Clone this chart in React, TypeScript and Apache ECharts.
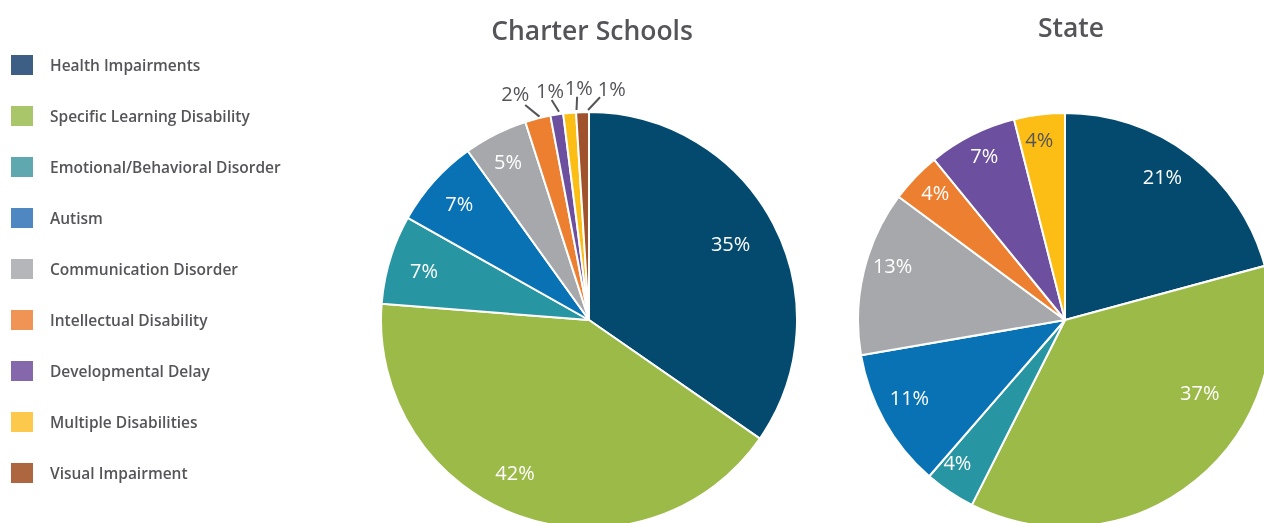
import React, { useEffect, useRef } from "react";
import * as echarts from "echarts";

const categories = [
  "Health Impairments",
  "Specific Learning Disability",
  "Emotional/Behavioral Disorder",
  "Autism",
  "Communication Disorder",
  "Intellectual Disability",
  "Developmental Delay",
  "Multiple Disabilities",
  "Visual Impairment",
];
const charterValues = [35, 42, 7, 7, 5, 2, 1, 1, 1];
const stateValues = [21, 37, 4, 11, 13, 4, 7, 4, 0];
const sliceColors = ["#034a6e", "#9bba48", "#2796a2", "#0872b4", "#a6a8ab", "#ed7f31", "#6c4f9e", "#fcbd14", "#a0522d"];
const legendColors = ["#3d5f85", "#aac66a", "#5fa8b0", "#4f87c2", "#b5b6b9", "#f09456", "#8568ac", "#fdc94c", "#ad6640"];
const titles = ["Charter Schools", "State"];

// label nudges (styling only)
const charterInsideNudge: [number, number][] = [[-14, 5], [-15, -13], [3, 2], [1, 1], [-2, -2], [0, 0], [0, 0], [0, 0], [0, 0]];
const stateInsideNudge: [number, number][] = [[-9, -4], [24, -63], [-10, -3], [-3, -8], [-2, -14], [-3, -7], [-2, -8], [-4, -7], [0, 0]];
// outside labels: [line start offset, line end offset, text offset] relative to slice edge anchor
const charterOutside: Record<number, [number, number][]> = {
  5: [[1.7, -1.8], [-12.6, -13.5], [-22.6, -24.9]],
  6: [[2.2, -2.8], [-5.1, -14.5], [-6.8, -24.5]],
  7: [[6.9, -2.9], [7.5, -16.2], [9.2, -25.6]],
  8: [[5.5, -2.1], [17.5, -14.8], [29.2, -23.8]],
};

const FONT = "'Open Sans', sans-serif";
const GREY = "#555559";

export default function App() {
  const ref = useRef<HTMLDivElement>(null);
  useEffect(() => {
    if (!ref.current) return;
    const chart = echarts.init(ref.current, null, { renderer: "svg" });
    const R = 208;
    const charterSmall = (v: number) => v <= 2;

    const mainData = (vals: number[], outsideSmall: boolean) =>
      vals.map((v, i) => ({
        name: categories[i],
        value: v,
        itemStyle: { color: sliceColors[i] },
        label: { show: outsideSmall && charterSmall(v) },
        labelLine: { show: outsideSmall && charterSmall(v) },
      }));
    const labelData = (vals: number[], skipSmall: boolean) =>
      vals.map((v, i) => ({
        name: categories[i],
        value: v,
        label: {
          show: v > 0 && !(skipSmall && charterSmall(v)),
          color: i === 7 ? GREY : "#ffffff",
        },
      }));

    const centers: [number, number][] = [
      [589, 320],
      [1065, 320],
    ];

    chart.setOption({
      animation: false,
      title: titles.map((t, i) => ({
        text: t,
        left: i === 0 ? 592 : 1071,
        top: i === 0 ? 16 : 13,
        padding: 0,
        textAlign: "center",
        textStyle: { fontFamily: FONT, fontSize: 26.5, fontWeight: 600, color: GREY },
      })),
      legend: {
        orient: "vertical",
        left: 9,
        top: 53,
        padding: 0,
        itemWidth: 24,
        itemHeight: 22,
        itemGap: 27.0,
        icon: "rect",
        selectedMode: false,
        textStyle: { fontFamily: FONT, fontSize: 15.5, fontWeight: 600, color: GREY, padding: [0, 0, 0, 11] },
        data: categories.map((c, i) => ({ name: c, itemStyle: { color: legendColors[i] } })),
      },
      series: [
        {
          type: "pie",
          center: centers[0],
          radius: [0, R],
          startAngle: 90,
          clockwise: true,
          avoidLabelOverlap: false,
          itemStyle: { borderColor: "#ffffff", borderWidth: 2 },
          label: {
            position: "outside",
            formatter: "{c}%",
            fontFamily: FONT,
            fontSize: 20,
            color: GREY,
          },
          labelLine: { length: 14, length2: 0, lineStyle: { color: GREY, width: 2 } },
          labelLayout: (p: any) => {
            const cfg = charterOutside[p.dataIndex];
            const pts = p.labelLinePoints;
            if (!cfg || !pts || !pts[0]) return {};
            const [ax, ay] = pts[0];
            return {
              x: ax + cfg[2][0],
              y: ay + cfg[2][1],
              align: "center",
              verticalAlign: "middle",
              labelLinePoints: [
                [ax + cfg[0][0], ay + cfg[0][1]],
                [ax + cfg[1][0], ay + cfg[1][1]],
                [ax + cfg[1][0], ay + cfg[1][1]],
              ],
            };
          },
          data: mainData(charterValues, true),
        },
        {
          type: "pie",
          center: centers[0],
          radius: [R * 0.66, R],
          startAngle: 90,
          silent: true,
          itemStyle: { color: "rgba(0,0,0,0)" },
          label: { position: "inside", formatter: "{c}%", fontFamily: FONT, fontSize: 20, fontWeight: 500 },
          labelLine: { show: false },
          labelLayout: (p: any) => ({ dx: charterInsideNudge[p.dataIndex][0], dy: charterInsideNudge[p.dataIndex][1] }),
          data: labelData(charterValues, true),
        },
        {
          type: "pie",
          center: centers[1],
          radius: [0, R - 1],
          startAngle: 90,
          itemStyle: { borderColor: "#ffffff", borderWidth: 2 },
          label: { show: false },
          labelLine: { show: false },
          data: mainData(stateValues, false),
        },
        {
          type: "pie",
          center: centers[1],
          radius: [R * 0.66, R - 1],
          startAngle: 90,
          silent: true,
          itemStyle: { color: "rgba(0,0,0,0)" },
          label: { position: "inside", formatter: "{c}%", fontFamily: FONT, fontSize: 20, fontWeight: 500 },
          labelLine: { show: false },
          labelLayout: (p: any) => ({ dx: stateInsideNudge[p.dataIndex][0], dy: stateInsideNudge[p.dataIndex][1] }),
          data: labelData(stateValues, false),
        },
      ],
    });
    return () => chart.dispose();
  }, []);
  return <div ref={ref} style={{ position: "fixed", left: 0, top: 0, width: 1264, height: 523 }} />;
}
